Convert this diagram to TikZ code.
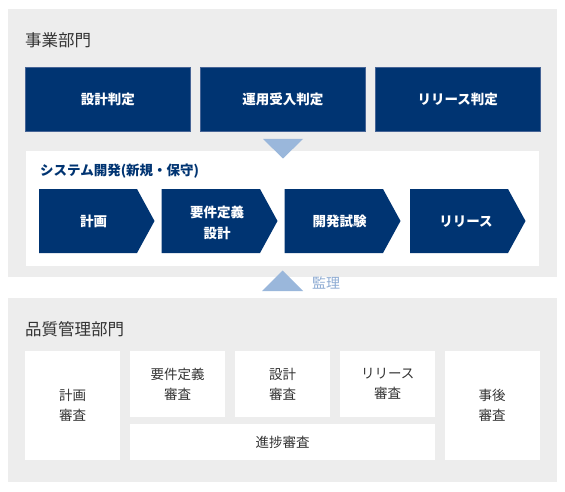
\documentclass[tikz,border=0pt]{standalone}
\usepackage{fontspec}
\setmainfont{Noto Sans CJK JP}
\definecolor{navy}{RGB}{0,52,114}
\definecolor{navyedge}{RGB}{70,100,150}
\definecolor{panelgray}{RGB}{237,237,237}
\definecolor{lightblue}{RGB}{154,183,219}
\definecolor{labelblue}{RGB}{140,170,210}
\definecolor{darktext}{RGB}{51,51,51}
\tikzset{
  panel/.style={fill=panelgray, draw=none},
  whitepanel/.style={fill=white, draw=none},
  title/.style={anchor=west, inner sep=0pt, text=darktext, font=\fontsize{16.5}{20}\selectfont},
  subtitle/.style={anchor=west, inner sep=0pt, text=navy, font=\bfseries\fontsize{13.5}{18}\selectfont},
  bluebox/.style={anchor=north west, fill=navy, draw=navyedge, line width=0.5pt, inner sep=0pt,
    text=white, font=\bfseries\fontsize{13.5}{20}\selectfont, align=center},
  chev/.style={fill=navy},
  chevtext/.style={text=white, inner sep=0pt, font=\bfseries\fontsize{13.5}{21}\selectfont, align=center},
  review/.style={anchor=north west, fill=white, inner sep=0pt, text=darktext,
    font=\fontsize{13.5}{20}\selectfont, align=center},
  tri/.style={fill=lightblue},
}
\begin{document}
\begin{tikzpicture}[x=1pt,y=-1pt]
\useasboundingbox (0,0) rectangle (565,492);
% top panel
\fill[panel] (8,9.5) rectangle (557,277);
\node[title] (t1) at (25,40.5) {事業部門};
\node[bluebox, minimum width=165pt, minimum height=64pt] (j1) at (25,67) {設計判定};
\node[bluebox, minimum width=165pt, minimum height=64pt] (j2) at (200,67) {運用受入判定};
\node[bluebox, minimum width=165pt, minimum height=64pt] (j3) at (375,67) {リリース判定};
\fill[whitepanel] (25.5,151) rectangle (539,266);
\fill[tri] (263,139) -- (303,139) -- (283,158.5) -- cycle;
\node[subtitle] (st) at (40,171.5) {システム開発(新規・保守)};
% chevrons
\fill[chev] (39,189) -- (137,189) -- (154.5,221) -- (137,253) -- (39,253) -- cycle;
\fill[chev] (161.5,189) -- (260,189) -- (277.5,221) -- (260,253) -- (161.5,253) -- cycle;
\fill[chev] (284.5,189) -- (383,189) -- (400.5,221) -- (383,253) -- (284.5,253) -- cycle;
\fill[chev] (410,189) -- (508,189) -- (525.5,221) -- (508,253) -- (410,253) -- cycle;
\node[chevtext] (c1) at (93.5,221.5) {計画};
\node[chevtext] (c2) at (217,222.5) {要件定義\\設計};
\node[chevtext] (c3) at (339.5,221.5) {開発試験};
\node[chevtext] (c4) at (466,221.5) {リリース};
% audit arrow
\fill[tri] (262,291) -- (303,291) -- (282.5,270.5) -- cycle;
\node[anchor=west, inner sep=0pt, text=labelblue, font=\fontsize{14}{18}\selectfont] (kanri) at (312,283.5) {監理};
% bottom panel
\fill[panel] (8,298) rectangle (557,482);
\node[title] (t2) at (25,329.5) {品質管理部門};
\node[review, minimum width=95pt, minimum height=109pt] (r1) at (25,351) {計画\\審査};
\node[review, minimum width=95pt, minimum height=66pt] (r2) at (130,351) {要件定義\\審査};
\node[review, minimum width=95pt, minimum height=66pt] (r3) at (235,351) {設計\\審査};
\node[review, minimum width=95pt, minimum height=66pt] (r4) at (340,351) {リリース\\審査};
\node[review, minimum width=95pt, minimum height=109pt] (r5) at (444.5,351) {事後\\審査};
\node[review, minimum width=305pt, minimum height=36pt] (r6) at (130,424) {進捗審査};
\end{tikzpicture}
\end{document}
